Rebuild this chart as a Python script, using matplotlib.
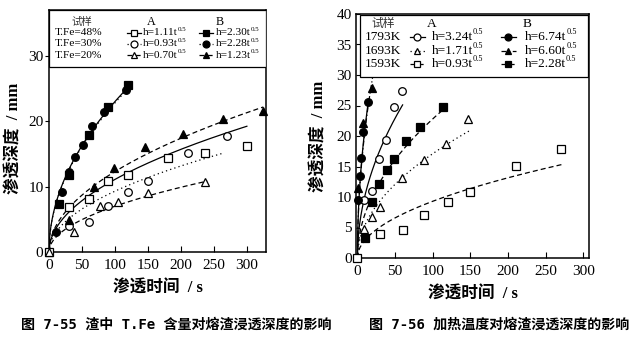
import numpy as np
import matplotlib.pyplot as plt
from matplotlib.patches import Rectangle

plt.rcParams['font.family'] = ['Liberation Serif', 'Noto Sans CJK SC']

# 图7-55: T.Fe content, A / B samples
t_a48 = [0, 30, 60, 90, 120, 180, 237, 300]
h_a48 = [0, 6.9, 8.1, 10.8, 11.7, 14.4, 15.2, 16.2]
t_a30 = [30, 60, 90, 120, 150, 210, 270]
h_a30 = [4.0, 4.6, 7.0, 9.15, 10.8, 15.15, 17.8]
t_a20 = [0, 38, 78, 105, 150, 236]
h_a20 = [0, 3.0, 7.1, 7.7, 8.95, 10.7]
t_b48 = [15, 30, 60, 89, 120]
h_b48 = [7.3, 11.8, 17.9, 22.2, 25.5]
t_b30 = [10, 20, 30, 40, 51, 65, 84, 116]
h_b30 = [3.1, 9.15, 12.2, 14.5, 16.3, 19.2, 21.4, 24.7]
t_b20 = [30, 68, 99, 145, 203, 264, 324]
h_b20 = [4.9, 10.0, 12.8, 16.1, 18.1, 20.3, 21.6]
k_left = [1.11, 0.93, 0.70, 2.30, 2.28, 1.23]
tend_left = [300, 265, 240, 120, 118, 325]

# 图7-56: heating temperature
t_1793a = [9, 19, 29, 38, 48, 59]
h_1793a = [9.5, 11.0, 16.2, 19.3, 24.8, 27.4]
t_1693a = [9, 19, 30, 59, 88, 118, 147]
h_1693a = [4.7, 6.8, 8.4, 13.1, 16.1, 18.7, 22.8]
t_1593a = [0, 30, 60, 88, 120, 150, 211, 270]
h_1593a = [0, 3.9, 4.6, 7.0, 9.1, 10.8, 15.1, 17.8]
t_1793b = [1, 3, 5, 8, 14]
h_1793b = [9.5, 13.5, 16.4, 20.7, 25.6]
t_1693b = [1, 8, 19]
h_1693b = [11.4, 22.1, 27.8]
t_1593b = [10, 19, 28, 39, 49, 64, 83, 113]
h_1593b = [3.2, 9.1, 12.2, 14.4, 16.2, 19.2, 21.4, 24.7]
k_right = [3.24, 1.71, 0.93, 6.74, 6.60, 2.28]
tend_right = [60, 150, 272, 14, 20, 115]

DASH = (0, (4, 2.5))
DOT = (0, (1, 2.5))
DASHDOT = (0, (4, 2, 1, 2))

fig = plt.figure(figsize=(6.34, 3.42), dpi=100)
ax1 = fig.add_axes([49/634, 90/342, 217/634, 242/342])
ax2 = fig.add_axes([356/634, 84/342, 233/634, 244/342])

def marks(ax, t, h, m, filled):
    ax.plot(t, h, ls='none', marker=m, ms=5.5, mew=0.9, mec='black',
            mfc='black' if filled else 'white', zorder=4, clip_on=False)

def curve(ax, k, tend, ls):
    t = np.linspace(0, tend, 200)
    ax.plot(t, k * np.sqrt(t), color='black', lw=0.9, ls=ls, zorder=3)

def legend_key(ax, x, y, m, filled, ls):
    ax.plot([x - 0.033, x + 0.033], [y, y], transform=ax.transAxes, color='black',
            lw=0.9, ls=ls, clip_on=False, zorder=6)
    ax.plot([x], [y], transform=ax.transAxes, marker=m, ms=5, mew=0.9, mec='black',
            mfc='black' if filled else 'white', clip_on=False, zorder=7)

def fit_label(ax, x, y, k, fs):
    # h=k t^0.5 with a small raised exponent
    t = ax.text(x, y, 'h=%.2ft' % k, transform=ax.transAxes, va='center',
                fontsize=fs, zorder=8)
    ax.annotate('0.5', xy=(1.0, 0.62), xycoords=t, ha='left', va='bottom',
                fontsize=fs * 0.62, zorder=8)

# ---- left panel
styles_left = ['-', DOT, DASH, '-', DOT, DASH]
for k, te, ls in zip(k_left, tend_left, styles_left):
    curve(ax1, k, te, ls)
marks(ax1, t_a48, h_a48, 's', False)
marks(ax1, t_a30, h_a30, 'o', False)
marks(ax1, t_a20, h_a20, '^', False)
marks(ax1, t_b48, h_b48, 's', True)
marks(ax1, t_b30, h_b30, 'o', True)
marks(ax1, t_b20, h_b20, '^', True)

ax1.set_xlim(0, 329)
ax1.set_ylim(0, 37)
ax1.set_xticks([0, 50, 100, 150, 200, 250, 300])
ax1.set_yticks([0, 10, 20, 30])
ax1.tick_params(axis='x', direction='in', length=4, labelsize=11, pad=5)
ax1.tick_params(axis='y', direction='out', length=3, labelsize=11, pad=1)

ax1.add_patch(Rectangle((0, 0.764), 1, 0.236, transform=ax1.transAxes, fill=True,
                        fc='white', ec='black', lw=0.9, zorder=5))
fs = 8.2
ax1.text(0.152, 0.952, '试样', transform=ax1.transAxes, ha='center', va='center',
         fontsize=7.5, color='#333333', zorder=8)
ax1.text(0.47, 0.952, 'A', transform=ax1.transAxes, ha='center', va='center',
         fontsize=fs + 0.5, zorder=8)
ax1.text(0.788, 0.952, 'B', transform=ax1.transAxes, ha='center', va='center',
         fontsize=fs + 0.5, zorder=8)
rows_left = ['T.Fe=48%', 'T.Fe=30%', 'T.Fe=20%']
ys_left = [0.906, 0.860, 0.813]
mk = ['s', 'o', '^']
for i in range(3):
    y = ys_left[i]
    ax1.text(0.028, y, rows_left[i], transform=ax1.transAxes, va='center',
             fontsize=fs, zorder=8)
    legend_key(ax1, 0.392, y, mk[i], False, styles_left[i])
    fit_label(ax1, 0.434, y, k_left[i], fs)
    legend_key(ax1, 0.724, y, mk[i], True, styles_left[i + 3])
    fit_label(ax1, 0.770, y, k_left[i + 3], fs)

# ---- right panel
styles_right = ['-', DOT, DASH, '-', DASHDOT, DASH]
for k, te, ls in zip(k_right, tend_right, styles_right):
    curve(ax2, k, te, ls)
marks(ax2, t_1793a, h_1793a, 'o', False)
marks(ax2, t_1693a, h_1693a, '^', False)
marks(ax2, t_1593a, h_1593a, 's', False)
marks(ax2, t_1793b, h_1793b, 'o', True)
marks(ax2, t_1693b, h_1693b, '^', True)
marks(ax2, t_1593b, h_1593b, 's', True)

ax2.set_xlim(-1.9, 307.5)
ax2.set_ylim(0, 40)
ax2.set_xticks([0, 50, 100, 150, 200, 250, 300])
ax2.set_yticks([0, 5, 10, 15, 20, 25, 30, 35, 40])
ax2.tick_params(axis='x', direction='in', length=4, labelsize=11, pad=5)
ax2.tick_params(axis='y', direction='in', length=3, labelsize=11, pad=3)

ax2.add_patch(Rectangle((0.017, 0.742), 0.979, 0.254, transform=ax2.transAxes,
                        fill=True, fc='white', ec='black', lw=0.9, zorder=5))
fs2 = 9.6
ax2.text(0.117, 0.960, '试样', transform=ax2.transAxes, ha='center', va='center',
         fontsize=8.5, color='#333333', zorder=8)
ax2.text(0.325, 0.960, 'A', transform=ax2.transAxes, ha='center', va='center',
         fontsize=fs2, zorder=8)
ax2.text(0.733, 0.960, 'B', transform=ax2.transAxes, ha='center', va='center',
         fontsize=fs2, zorder=8)
rows_right = ['1793K', '1693K', '1593K']
ys_right = [0.905, 0.848, 0.795]
mk2 = ['o', '^', 's']
for i in range(3):
    y = ys_right[i]
    ax2.text(0.036, y, rows_right[i], transform=ax2.transAxes, va='center',
             fontsize=fs2, zorder=8)
    legend_key(ax2, 0.263, y, mk2[i], False, styles_right[i])
    fit_label(ax2, 0.325, y, k_right[i], fs2)
    legend_key(ax2, 0.654, y, mk2[i], True, styles_right[i + 3])
    fit_label(ax2, 0.725, y, k_right[i + 3], fs2)

for ax in (ax1, ax2):
    for s in ax.spines.values():
        s.set_linewidth(1.1)
    ax.set_xlabel('渗透时间  / s', fontsize=12, fontweight='bold', labelpad=6)
    ax.set_ylabel('渗透深度  / mm', fontsize=12, fontweight='bold')
ax1.yaxis.set_label_coords(-0.124, 0.47)
ax2.yaxis.set_label_coords(-0.12, 0.50)

cap_font = ['DejaVu Sans Mono', 'Noto Sans CJK SC']
fig.text(176/634, 1 - 325/342, '图 7-55 渣中 T.Fe 含量对熔渣浸透深度的影响', ha='center',
         va='center', fontsize=10.1, fontweight='bold', family=cap_font)
fig.text(499/634, 1 - 325/342, '图 7-56 加热温度对熔渣浸透深度的影响', ha='center',
         va='center', fontsize=10.1, fontweight='bold', family=cap_font)

fig.savefig('out.png', dpi=100)
